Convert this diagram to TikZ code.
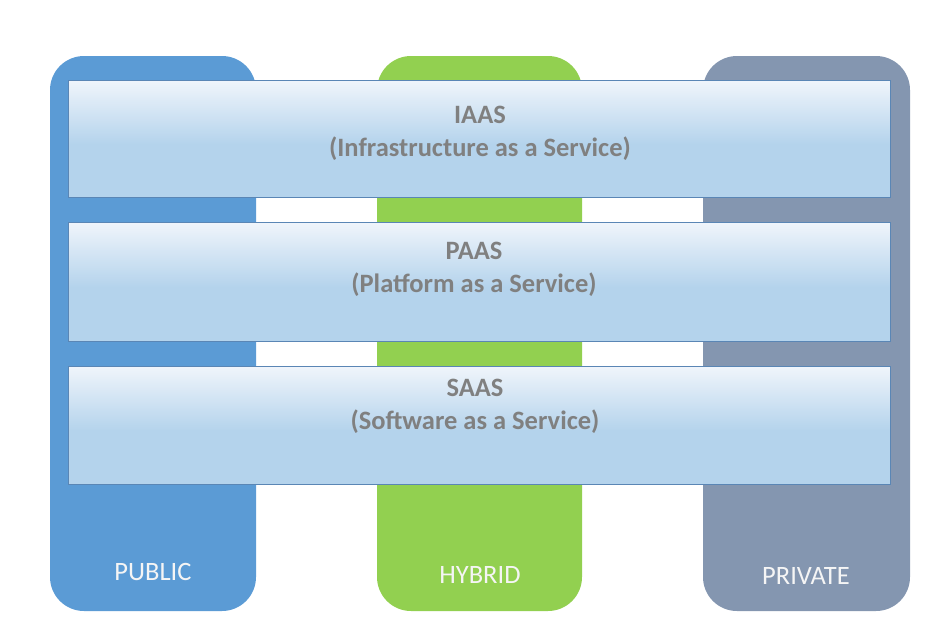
\documentclass[tikz,border=0pt]{standalone}
\usepackage{fontspec}
\setmainfont{Carlito}
\definecolor{pubc}{HTML}{5B9BD5}
\definecolor{hybc}{HTML}{92D050}
\definecolor{privc}{HTML}{8496B0}
\definecolor{bartop}{HTML}{F0F5FB}
\definecolor{barbot}{HTML}{B4D3EC}
\definecolor{barline}{HTML}{5A86B5}
\definecolor{txtgray}{HTML}{808080}
\begin{document}
\begin{tikzpicture}[x=1pt,y=-1pt,
  column/.style={fill=#1, draw=none, rounded corners=34pt},
  collabel/.style={text=white!92!gray, font=\fontsize{26.5}{30}\selectfont, anchor=center},
  bartext/.style={text=txtgray, font=\bfseries\fontsize{26.5}{33}\selectfont, align=center, anchor=center}]
\useasboundingbox (0,0) rectangle (927,632);
% columns
\fill[column=pubc] (50,56) rectangle (256,611);
\fill[column=hybc] (377,56) rectangle (582,611);
\fill[column=privc] (703,56) rectangle (910,611);
\node[collabel] (pub) at (153,572) {PUBLIC};
\node[collabel] (hyb) at (480,575) {HYBRID};
\node[collabel] (priv) at (806,576) {PRIVATE};
% bars
\foreach \t/\b in {80/197,222/341,366/484}{
  \pgfmathsetmacro{\m}{\t+0.55*(\b-\t)}
  \shade[top color=bartop, bottom color=barbot] (68,\t) rectangle (890,\m);
  \fill[barbot] (68,\m-0.5) rectangle (890,\b);
  \draw[barline, line width=0.9pt] (68,\t) rectangle (890,\b);
}
\node[bartext] (iaastxt) at (480,133) {IAAS\\(Infrastructure as a Service)};
\node[bartext] (paastxt) at (474,269) {PAAS\\(Platform as a Service)};
\node[bartext] (saastxt) at (475,406) {SAAS\\(Software as a Service)};
\end{tikzpicture}
\end{document}
